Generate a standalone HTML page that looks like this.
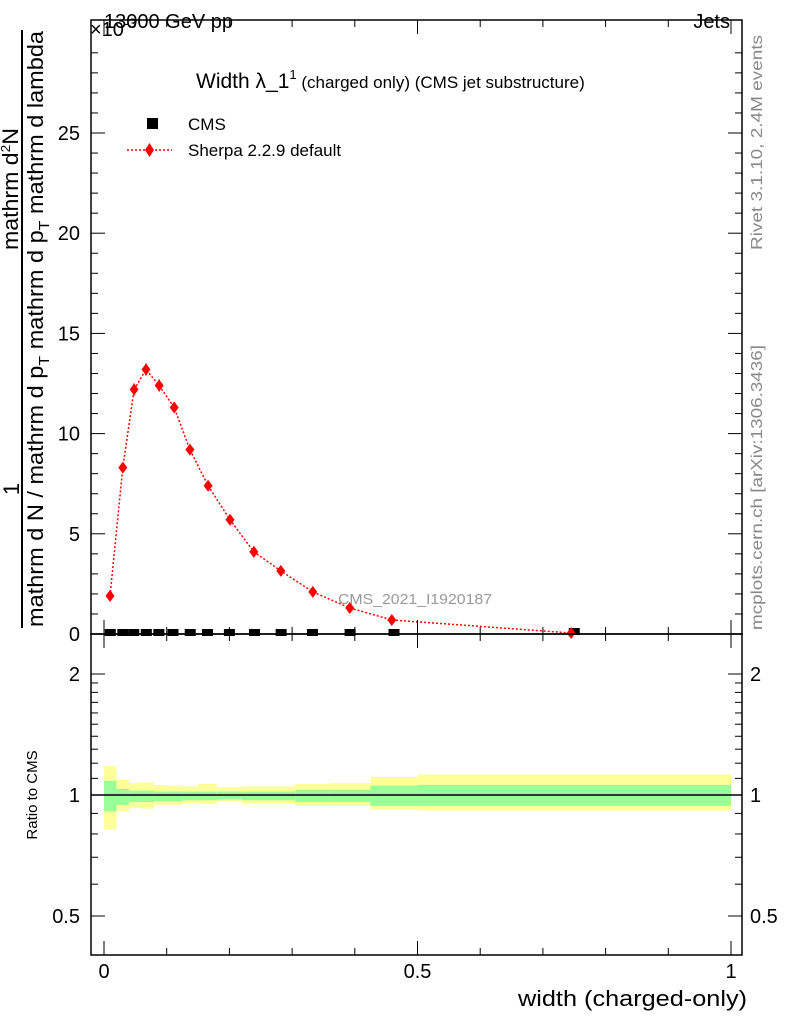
<!DOCTYPE html>
<html><head><meta charset="utf-8"><style>
html,body{margin:0;padding:0;background:#fff;}
svg{display:block;font-family:"Liberation Sans",sans-serif;}
</style></head><body>
<svg id="chart" width="786" height="1024" viewBox="0 0 786 1024" xmlns="http://www.w3.org/2000/svg">
<rect x="0" y="0" width="786" height="1024" fill="#fff"/>
<g id="ratioBands"></g>
<g id="mainMarks"></g>
<g id="axes"></g>
<text x="104" y="28" font-size="20">13000 GeV pp</text>
<text x="90" y="36" font-size="20">×10<tspan font-size="14" dy="-8">-3</tspan></text>
<text x="730" y="28" font-size="20" text-anchor="end">Jets</text>
<text x="196" y="88" font-size="21">Width λ_1<tspan font-size="13" dy="-9">1</tspan><tspan font-size="17" dy="9"> (charged only) (CMS jet substructure)</tspan></text>
<rect x="147" y="118" width="11" height="11" fill="#000"/>
<text x="188" y="130" font-size="17">CMS</text>
<line x1="127" y1="150" x2="172" y2="150" stroke="red" stroke-width="1.5" stroke-dasharray="2,2"/>
<path d="M149.5,143 L154,150 L149.5,157 L145,150 Z" fill="red"/>
<text x="188" y="156" font-size="17">Sherpa 2.2.9 default</text>
<text x="338" y="604" font-size="15" fill="#999" textLength="154" lengthAdjust="spacingAndGlyphs">CMS_2021_I1920187</text>
<text transform="translate(762,250) rotate(-90)" font-size="16" fill="#888" textLength="215" lengthAdjust="spacingAndGlyphs">Rivet 3.1.10,  2.4M events</text>
<text transform="translate(762,630) rotate(-90)" font-size="16" fill="#888" textLength="285" lengthAdjust="spacingAndGlyphs">mcplots.cern.ch [arXiv:1306.3436]</text>
<g font-size="22">
<text transform="translate(19,489) rotate(-90)" text-anchor="middle">1</text>
<line x1="22" y1="628" x2="22" y2="30" stroke="#000" stroke-width="2"/>
<text transform="translate(43,627) rotate(-90)" textLength="596" lengthAdjust="spacingAndGlyphs">mathrm d N / mathrm d p<tspan font-size="15" dy="6">T</tspan><tspan dy="-6"> mathrm d p</tspan><tspan font-size="15" dy="6">T</tspan><tspan dy="-6"> mathrm d lambda</tspan></text>
<text transform="translate(18,250) rotate(-90)" textLength="122" lengthAdjust="spacingAndGlyphs">mathrm d<tspan font-size="13" dy="-8">2</tspan><tspan dy="8">N</tspan></text>
</g>
<text transform="translate(37,795) rotate(-90)" font-size="15" text-anchor="middle">Ratio to CMS</text>
<text x="518" y="1006" font-size="22" textLength="229" lengthAdjust="spacingAndGlyphs">width (charged-only)</text>
</svg>
<script>
const binEdges=[0,0.02,0.04,0.055,0.08,0.095,0.125,0.15,0.18,0.22,0.26,0.305,0.36,0.425,0.5,1.0];
const cmsValues=[0,0,0,0,0,0,0,0,0,0,0,0,0,0,0.05];
const sherpaX=[0.0096,0.030,0.048,0.067,0.088,0.112,0.137,0.166,0.201,0.239,0.282,0.333,0.392,0.459,0.745];
const sherpaValues=[1.9,8.3,12.2,13.2,12.4,11.3,9.2,7.4,5.7,4.1,3.15,2.1,1.3,0.7,0.05];
const sherpaErr=[0.15,0.25,0.3,0.3,0.3,0.25,0.2,0.15,0.12,0.1,0.08,0.06,0.05,0.04,0.01];
const totUp=[1.18,1.09,1.07,1.075,1.06,1.055,1.05,1.065,1.045,1.05,1.05,1.065,1.07,1.11,1.125];
const totDn=[0.82,0.91,0.93,0.925,0.945,0.945,0.955,0.95,0.965,0.955,0.955,0.94,0.94,0.92,0.915];
const statUp=[1.085,1.035,1.025,1.025,1.02,1.02,1.02,1.02,1.02,1.02,1.02,1.03,1.03,1.055,1.06];
const statDn=[0.91,0.945,0.96,0.96,0.965,0.965,0.97,0.97,0.975,0.97,0.97,0.96,0.96,0.94,0.94];
const mainTicks=[0,5,10,15,20,25];
const ratioTicks=[0.5,1,2];
const xTicks=[0,0.5,1];
const xTickLabels=["0","0.5","1"];

const NS="http://www.w3.org/2000/svg";
const L=91,R=742,T=20,MB=634,RB=955;
const X=v=>104+v*627;
const Y=v=>634-v*20.04;
const RY=v=>795-Math.log10(v)*402;
function mk(tag,attrs,parent){const e=document.createElementNS(NS,tag);for(const k in attrs)e.setAttribute(k,attrs[k]);parent.appendChild(e);return e;}
const axes=document.getElementById('axes'),bands=document.getElementById('ratioBands'),marks=document.getElementById('mainMarks');

for(let i=0;i<totUp.length;i++){
  const x0=X(binEdges[i]),x1=X(binEdges[i+1]);
  const y=mk('rect',{x:x0,y:RY(totUp[i]),width:x1-x0,height:RY(totDn[i])-RY(totUp[i]),fill:'#ffff99'},bands);
  
  
  const g=mk('rect',{x:x0,y:RY(statUp[i]),width:x1-x0,height:RY(statDn[i])-RY(statUp[i]),fill:'#99ff99'},bands);
  
  
}
const one=mk('line',{x1:L,x2:R,y1:RY(1),y2:RY(1),stroke:'#000','stroke-width':1.5},bands);



let pts=sherpaX.map((x,i)=>X(x)+','+Y(sherpaValues[i])).join(' ');
const pl=mk('polyline',{points:pts,fill:'none',stroke:'red','stroke-width':1.5,'stroke-dasharray':'2,2'},marks);


for(let i=0;i<cmsValues.length;i++){
  const cx=(X(binEdges[i])+X(binEdges[i+1]))/2;
  const y=Y(cmsValues[i]);
  const r=mk('rect',{x:cx-5.5,y:y-5,width:11,height:7,fill:'#000'},marks);
  
  
}
for(let i=0;i<sherpaX.length;i++){
  const cx=X(sherpaX[i]),cy=Y(sherpaValues[i]);
  const e=mk('line',{x1:cx,x2:cx,y1:Y(sherpaValues[i]+sherpaErr[i]),y2:Y(sherpaValues[i]-sherpaErr[i]),stroke:'red','stroke-width':1.5},marks);
  
  
  const d=mk('path',{d:`M${cx},${cy-6} L${cx+4.5},${cy} L${cx},${cy+6} L${cx-4.5},${cy} Z`,fill:'red'},marks);
  
  
}

const f1=mk('rect',{x:L,y:T,width:R-L,height:MB-T,fill:'none',stroke:'#000','stroke-width':1.5},axes);


const f2=mk('rect',{x:L,y:MB,width:R-L,height:RB-MB,fill:'none',stroke:'#000','stroke-width':1.5},axes);



for(let v=0;v<=29;v++){
  const y=Y(v),len=(v%5===0)?14:7;
  mk('line',{x1:L,x2:L+len,y1:y,y2:y,stroke:'#000'},axes);
  mk('line',{x1:R,x2:R-len,y1:y,y2:y,stroke:'#000'},axes);
}
mainTicks.forEach(v=>{
  const t=mk('text',{x:80,y:Y(v)+7,'font-size':20,'text-anchor':'end'},axes);
  t.textContent=String(v);
  
  
});
const rMinor=[0.5,0.6,0.7,0.8,0.9,1,1.1,1.2,1.3,1.4,1.5,1.6,1.7,1.8,1.9,2];
rMinor.forEach(v=>{
  const major=ratioTicks.includes(v),len=major?14:7,y=RY(v);
  mk('line',{x1:L,x2:L+len,y1:y,y2:y,stroke:'#000'},axes);
  mk('line',{x1:R,x2:R-len,y1:y,y2:y,stroke:'#000'},axes);
});
ratioTicks.forEach(v=>{
  const t=mk('text',{x:80,y:RY(v)+7,'font-size':20,'text-anchor':'end'},axes);
  t.textContent=String(v);
  
  
  const t2=mk('text',{x:750,y:RY(v)+7,'font-size':20},axes);
  t2.textContent=String(v);
  
  
});
for(let k=0;k<=10;k++){
  const v=k/10,x=X(v),len=(k%5===0)?14:7;
  [[T,1],[MB,-1],[MB,1],[RB,-1]].forEach(([y0,s])=>mk('line',{x1:x,x2:x,y1:y0,y2:y0+s*len,stroke:'#000'},axes));
}
xTicks.forEach((v,i)=>{
  const t=mk('text',{x:X(v),y:978,'font-size':20,'text-anchor':'middle'},axes);
  t.textContent=xTickLabels[i];
  
  
});
</script>
</body></html>
